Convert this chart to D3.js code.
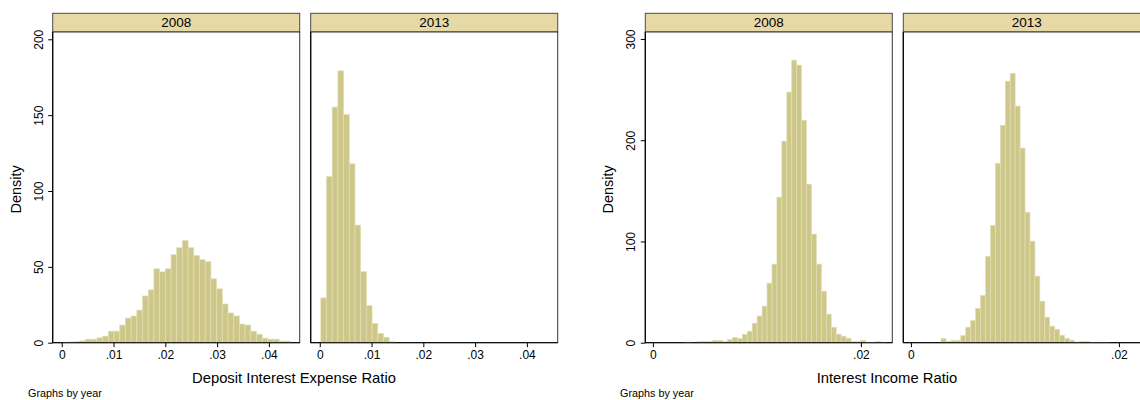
<!DOCTYPE html>
<html>
<head>
<meta charset="utf-8">
<script src="https://cdn.jsdelivr.net/npm/d3@7"></script>
<style>
  body { margin: 0; background: #fff; }
  text { font-family: "Liberation Sans", Arial, Helvetica, sans-serif; fill: #000; }
</style>
</head>
<body>
<div id="chart"></div>
<script>
// Panel labels (by year)
const years = ["2008", "2013"];

// Deposit interest expense ratio histograms (shared bins)
const depositBinStart = 0.0002;
const depositBinWidth = 0.0011;
const deposit2008 = [0.3, 0.5, 0.7, 1.2, 2.3, 2.3, 3.2, 4.3, 7.6, 7.6, 11.6, 16.2, 17.6, 21.5,
    30.8, 34.8, 48.7, 46.7, 48.7, 58, 62.6, 67.3, 62.6, 57.4, 54.7, 53.4, 42.1, 35.5, 25.5,
    19.6, 17.6, 12.3, 11.6, 7.6, 5.6, 3, 2.3, 2.3, 1.0, 1.0];
const deposit2013 = [29.5, 109.5, 155.3, 179.2, 150.4, 117.9, 77.5, 46.8, 24.4, 12.7, 6.1, 3.6, 0.6];
const depositXTicks = [0, 0.01, 0.02, 0.03, 0.04];
const depositYTicks = [0, 50, 100, 150, 200];

// Interest income ratio histograms (shared bins)
const incomeBinStart = 0.0029;
const incomeBinWidth = 0.000475;
const income2008 = [0.6, 0.6, 0, 1.3, 1.3, 1.3, 2.3, 2.3, 1.3, 3.3, 5.3, 4.3, 8.3, 11.3, 19.2,
    26.4, 36.1, 58.8, 77.6, 143.8, 199.1, 247.5, 279.1, 274.2, 219.8, 156.6, 107.2, 77.6,
    50.9, 28.2, 15.3, 8.4, 6.4, 4.4, 1.3, 1.3, 2.3, 0.3, 0.3, 1.3, 0.5];
const income2013 = [4.1, 1.3, 2.3, 2.0, 7.0, 15.3, 21.9, 34, 46.7, 85.3, 115.9, 177.2, 214.8,
    258.3, 266, 233.7, 192.2, 128.9, 100.3, 65.7, 41, 25.2, 16.3, 13.3, 7.4, 4.4, 2.5, 0.5,
    1.3, 1.3, 0.3, 0.3, 0.3, 0.3];
const incomeXTicks = [0, 0.02];
const incomeYTicks = [0, 100, 200, 300];

const svg = d3.select("#chart").append("svg")
    .attr("width", 1140)
    .attr("height", 400);

const stripTop = 13.3, plotTop = 32, plotBottom = 342.7, panelW = 247;
const tickFmt = d => d === 0 ? "0" : d3.format(".2f")(d).replace(/^0/, "");

function drawGroup(cfg) {
    const y = d3.scaleLinear().domain([0, cfg.yMax]).range([plotBottom, plotTop]);

    cfg.panels.forEach((p, pi) => {
        const left = cfg.lefts[pi];
        const x = d3.scaleLinear().domain(cfg.xDomain).range([left, left + panelW]);
        const g = svg.append("g");

        // strip
        g.append("rect")
            .attr("x", left).attr("y", stripTop)
            .attr("width", panelW).attr("height", plotTop - stripTop)
            .attr("fill", "#e6d9a6").attr("stroke", "#4a4a4a").attr("stroke-width", 1);
        g.append("text")
            .attr("x", left + panelW / 2).attr("y", 27)
            .attr("text-anchor", "middle")
            .style("font-size", "13.5px")
            .text(years[pi]);

        // plot region
        g.append("rect")
            .attr("x", left).attr("y", plotTop)
            .attr("width", panelW).attr("height", plotBottom - plotTop)
            .attr("fill", "#fff").attr("stroke", "#333").attr("stroke-width", 1);

        // bars
        g.selectAll(".bar")
            .data(p.filter(v => v > 0).length ? p.map((v, i) => ({ v, i })).filter(d => d.v > 0) : [])
            .enter()
            .append("rect")
            .attr("class", "bar")
            .attr("x", d => x(cfg.binStart + d.i * cfg.binWidth))
            .attr("width", d => x(cfg.binStart + (d.i + 1) * cfg.binWidth) - x(cfg.binStart + d.i * cfg.binWidth))
            .attr("y", d => y(d.v))
            .attr("height", d => y(0) - y(d.v))
            .attr("fill", "#cdc78a")
            .attr("stroke", "#e2deb6")
            .attr("stroke-width", 0.7);

        // x axis
        const xAxis = g.append("g")
            .attr("transform", `translate(0,${plotBottom})`)
            .call(d3.axisBottom(x).tickValues(cfg.xTicks).tickFormat(tickFmt).tickSize(4.5).tickPadding(3));
        xAxis.select(".domain").attr("stroke", "#000").attr("d", `M${left},0H${left + panelW}`);
        xAxis.selectAll(".tick line").attr("stroke", "#000");
        xAxis.selectAll("text").style("font-size", "12px").style("font-family", "Liberation Sans, Arial, sans-serif");

        // left border line
        g.append("line")
            .attr("x1", left).attr("x2", left)
            .attr("y1", plotTop).attr("y2", plotBottom)
            .attr("stroke", "#000").attr("stroke-width", 1.2);

        // y axis only on first panel
        if (pi === 0) {
            const yAxis = g.append("g")
                .attr("transform", `translate(${left},0)`)
                .call(d3.axisLeft(y).tickValues(cfg.yTicks).tickSize(4.5).tickFormat(d3.format("d")));
            yAxis.select(".domain").remove();
            yAxis.selectAll(".tick line").attr("stroke", "#000");
            yAxis.selectAll("text")
                .attr("x", null).attr("dy", null)
                .attr("text-anchor", "middle")
                .attr("transform", "translate(-10,0) rotate(-90)")
                .style("font-size", "12px")
                .style("font-family", "Liberation Sans, Arial, sans-serif");

            svg.append("text")
                .attr("transform", `translate(${left - 32},${(plotTop + plotBottom) / 2 + 2}) rotate(-90)`)
                .attr("text-anchor", "middle")
                .style("font-size", "14.5px")
                .text("Density");
        }
    });

    // x title
    svg.append("text")
        .attr("x", cfg.titleX).attr("y", 382.5)
        .attr("text-anchor", "middle")
        .style("font-size", "14.8px")
        .text(cfg.xTitle);

    svg.append("text")
        .attr("x", cfg.noteX).attr("y", 396.5)
        .style("font-size", "10.8px")
        .text("Graphs by year");
}

drawGroup({
    panels: [deposit2008, deposit2013],
    lefts: [52.7, 310.7],
    xDomain: [-0.00175, 0.04595],
    yMax: 204.8,
    binStart: depositBinStart,
    binWidth: depositBinWidth,
    xTicks: depositXTicks,
    yTicks: depositYTicks,
    xTitle: "Deposit Interest Expense Ratio",
    titleX: 294,
    noteX: 28
});

drawGroup({
    panels: [income2008, income2013],
    lefts: [645.3, 903.3],
    xDomain: [-0.00073, 0.02302],
    yMax: 306.9,
    binStart: incomeBinStart,
    binWidth: incomeBinWidth,
    xTicks: incomeXTicks,
    yTicks: incomeYTicks,
    xTitle: "Interest Income Ratio",
    titleX: 887,
    noteX: 620
});
</script>
</body>
</html>
